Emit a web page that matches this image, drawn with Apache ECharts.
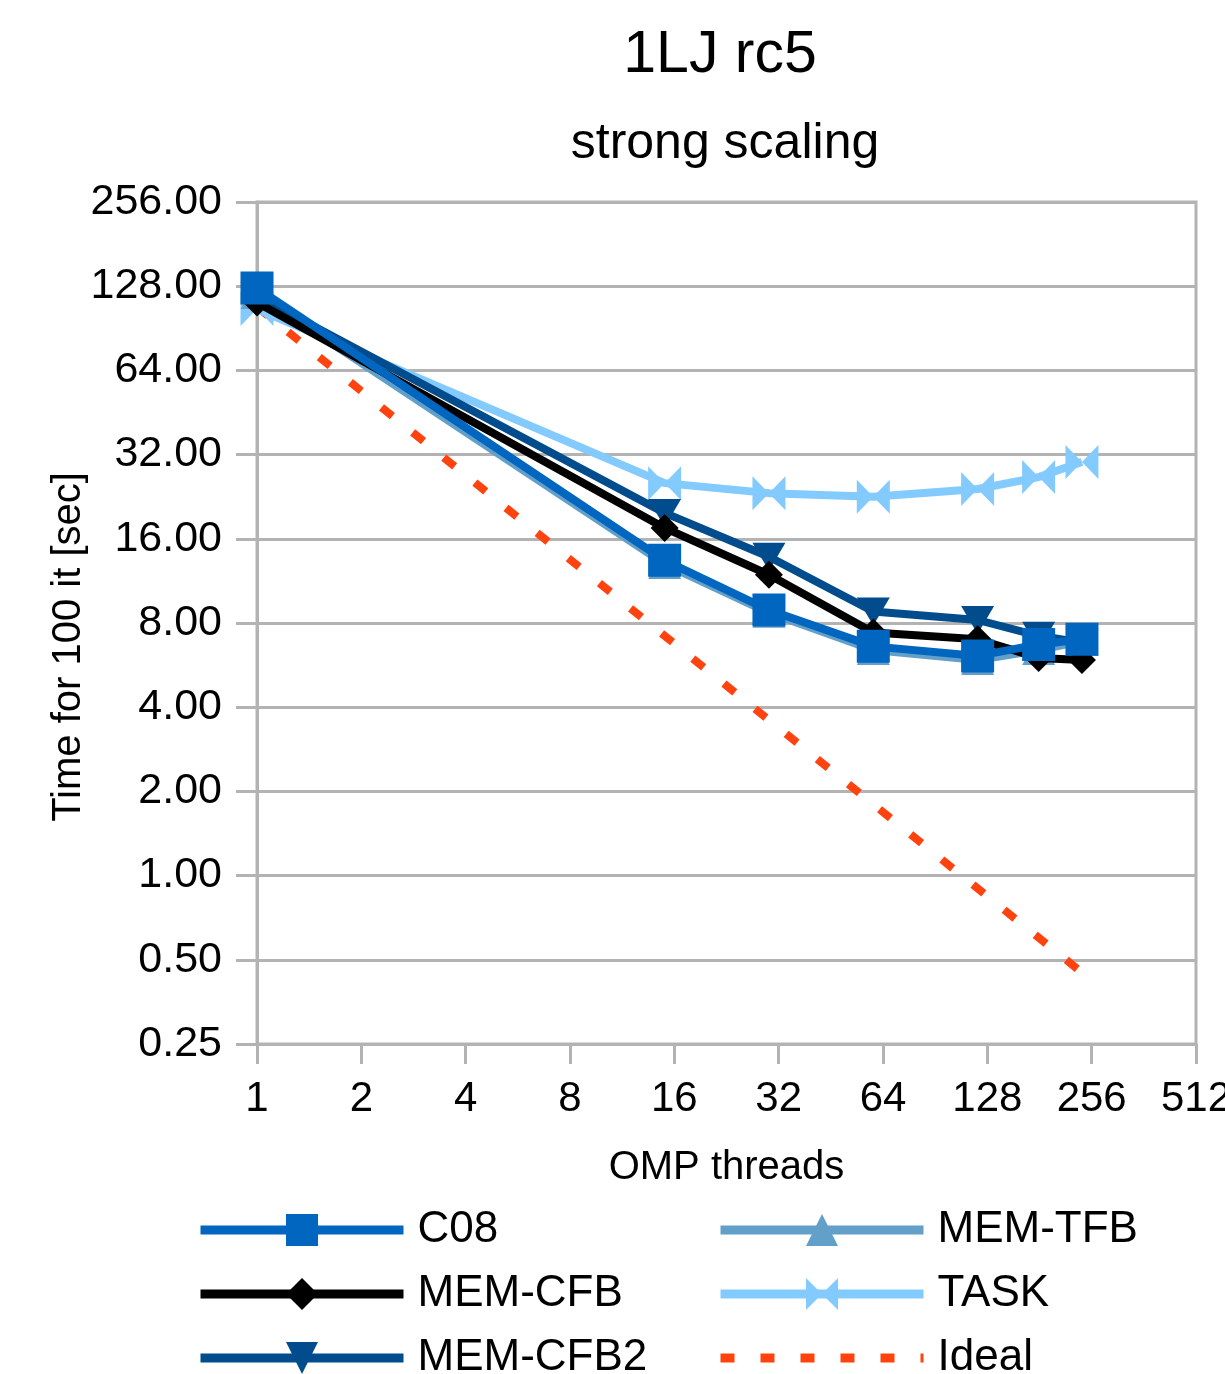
<!DOCTYPE html>
<html>
<head>
<meta charset="utf-8">
<script src="https://cdn.jsdelivr.net/npm/echarts@6/dist/echarts.min.js"></script>
<style>
  html, body { margin: 0; padding: 0; background: #fff; }
  #chart { width: 1225px; height: 1374px; }
</style>
</head>
<body>
<div id="chart"></div>
<script>
// OMP thread counts of each run
const threads = [1, 15, 30, 60, 120, 180, 240];
// Time for 100 iterations [sec]
const c08     = [126, 13.4, 8.9, 6.6, 6.1, 6.7, 7.0];
const memCfb  = [112, 17.5, 11.9, 7.4, 7.0, 6.0, 5.9];
const memCfb2 = [118, 19.8, 13.8, 8.8, 8.2, 7.2, 6.8];
const memTfb  = [120, 13.0, 8.7, 6.4, 5.9, 6.4, 6.9];
const task    = [106, 25.3, 23.3, 22.6, 24.1, 26.6, 30.1];
const ideal   = [108, 7.2, 3.6, 1.8, 0.9, 0.6, 0.45];
const xTicks  = [1, 2, 4, 8, 16, 32, 64, 128, 256, 512];
const yTicks  = [0.25, 0.5, 1, 2, 4, 8, 16, 32, 64, 128, 256];

const FONT = 'Liberation Sans';
const GRID_GRAY = '#b3b3b3';
const bowtie = 'path://M0,0 L10,5 L0,10 Z M20,0 L10,5 L20,10 Z';

function pairs(vals) { return threads.map((t, i) => [t, vals[i]]); }

function lineSeries(name, vals, color, symbol, size, z, extra) {
  return Object.assign({
    name: name,
    type: 'line',
    data: pairs(vals),
    symbol: symbol,
    symbolSize: size,
    z: z,
    lineStyle: { color: color, width: 8 },
    itemStyle: { color: color },
    emphasis: { disabled: true },
    animation: false
  }, extra || {});
}

const chart = echarts.init(document.getElementById('chart'), null, { renderer: 'canvas' });

const legendCommon = {
  orient: 'vertical',
  top: 1208,
  height: 300,
  padding: 0,
  itemWidth: 203,
  itemHeight: 40,
  itemGap: 20,
  lineStyle: { width: 9 },
  textStyle: { fontFamily: FONT, fontSize: 44, lineHeight: 40, color: '#000', padding: [0, 0, 0, 9] },
  selectedMode: false
};

chart.setOption({
  backgroundColor: '#fff',
  textStyle: { fontFamily: FONT },
  title: [
    { text: '1LJ rc5', left: 715, top: 21, textAlign: 'center',
      textStyle: { fontFamily: FONT, fontSize: 59, fontWeight: 'normal', color: '#000' } },
    { text: 'strong scaling', left: 720, top: 114, textAlign: 'center',
      textStyle: { fontFamily: FONT, fontSize: 50, fontWeight: 'normal', color: '#000' } }
  ],
  // vertical axis title
  graphic: [{
    type: 'text',
    x: 69, y: 647,
    rotation: Math.PI / 2,
    style: {
      text: 'Time for 100 it [sec]',
      fontFamily: FONT, fontSize: 40, fill: '#000',
      align: 'center', verticalAlign: 'middle'
    }
  }],
  legend: [
    Object.assign({ left: 196, data: ['C08', 'MEM-CFB', 'MEM-CFB2'] }, legendCommon),
    Object.assign({ left: 716, data: ['MEM-TFB', 'TASK',
      { name: 'Ideal', itemStyle: { opacity: 0 } }] }, legendCommon)
  ],
  grid: {
    left: 257, right: 29, top: 202, bottom: 330,
    outerBoundsMode: 'none',
    containLabel: false,
    show: true, borderColor: GRID_GRAY, borderWidth: 3, backgroundColor: 'transparent'
  },
  xAxis: {
    type: 'log', logBase: 2,
    min: xTicks[0], max: xTicks[xTicks.length - 1],
    interval: 1,
    name: 'OMP threads', nameLocation: 'middle', nameGap: 104,
    nameTextStyle: { fontFamily: FONT, fontSize: 40, color: '#000' },
    axisLine: { lineStyle: { color: GRID_GRAY, width: 3 } },
    axisTick: { show: true, length: 20, lineStyle: { color: GRID_GRAY, width: 3 } },
    axisLabel: { fontFamily: FONT, fontSize: 42, color: '#000', margin: 34,
      formatter: v => String(Math.round(v)) },
    splitLine: { show: false }
  },
  yAxis: {
    type: 'log', logBase: 2,
    min: yTicks[0], max: yTicks[yTicks.length - 1],
    interval: 1,
    axisLine: { lineStyle: { color: GRID_GRAY, width: 3 } },
    axisTick: { show: true, length: 21, lineStyle: { color: GRID_GRAY, width: 3 } },
    axisLabel: { fontFamily: FONT, fontSize: 43, color: '#000', margin: 35,
      formatter: v => Number(v).toFixed(2) },
    splitLine: { show: true, lineStyle: { color: GRID_GRAY, width: 3 } }
  },
  series: [
    lineSeries('Ideal', ideal, '#ff420e', 'none', 0, 2, {
      lineStyle: { color: '#ff420e', width: 8, type: [14, 26], cap: 'butt' }
    }),
    lineSeries('TASK', task, '#83caff', bowtie, [33, 34], 3),
    lineSeries('MEM-TFB', memTfb, '#62a0ca', 'triangle', [33, 30], 4),
    lineSeries('MEM-CFB2', memCfb2, '#004c8c', 'triangle', [33, 28], 5, { symbolRotate: 180 }),
    lineSeries('MEM-CFB', memCfb, '#000000', 'diamond', [28, 28], 6),
    lineSeries('C08', c08, '#0066bf', 'rect', [33, 33], 7)
  ]
});
</script>
</body>
</html>
